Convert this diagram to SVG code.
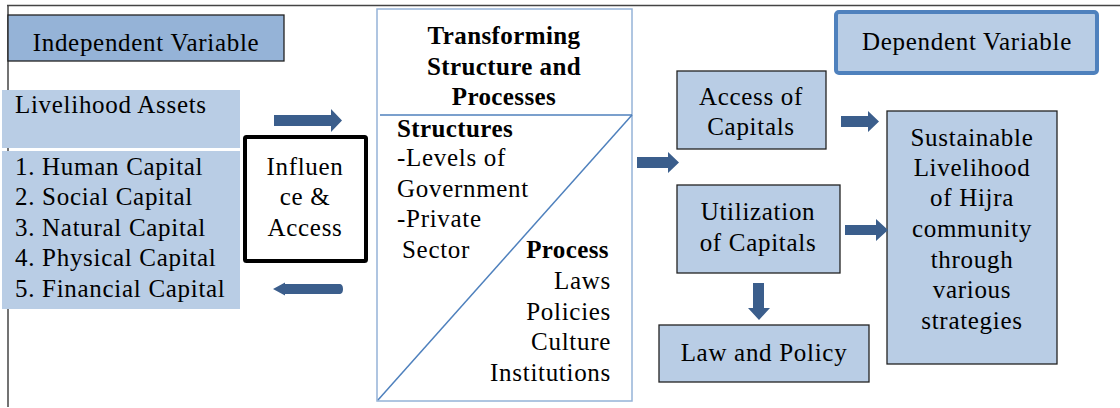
<svg xmlns="http://www.w3.org/2000/svg" width="1120" height="408" viewBox="0 0 1120 408">
  <style>
    .t { font-family: 'Liberation Serif', Tinos, 'Times New Roman', Times, 'DejaVu Serif', serif; font-size: 25px; fill: #000; letter-spacing: 0.7px; }
    .b { font-weight: bold; letter-spacing: 0.4px; }
    .c { text-anchor: middle; }
    .r { text-anchor: end; }
    .box { fill: #b9cde5; stroke: #222; stroke-width: 1.3; }
    .arrow { fill: #3b5e8c; }
  </style>

  <!-- frame lines -->
  <line x1="7" y1="5.5" x2="1120" y2="5.5" stroke="#444" stroke-width="1.5"/>
  <line x1="8" y1="5" x2="8" y2="407" stroke="#444" stroke-width="1.5"/>

  <!-- Independent Variable label -->
  <g id="independent-variable">
    <rect x="8" y="15" width="276" height="46" fill="#95b3d7" stroke="#222" stroke-width="1.3"/>
    <text class="t c" x="146" y="51">Independent Variable</text>
  </g>

  <!-- Livelihood assets -->
  <g id="livelihood-assets">
    <rect x="2" y="90" width="238" height="58" fill="#b9cde5"/>
    <rect x="2" y="151" width="238" height="158" fill="#b9cde5"/>
    <text class="t" x="15" y="113">Livelihood Assets</text>
    <text class="t" x="15" y="175">1. Human Capital</text>
    <text class="t" x="15" y="205">2. Social Capital</text>
    <text class="t" x="15" y="236">3. Natural Capital</text>
    <text class="t" x="15" y="266">4. Physical Capital</text>
    <text class="t" x="15" y="297">5. Financial Capital</text>
  </g>

  <!-- Influence & Access -->
  <g id="influence-access">
    <rect x="245" y="137" width="121" height="124" fill="#fff" stroke="#000" stroke-width="4" rx="1.5"/>
    <text class="t c" x="305" y="175">Influen</text>
    <text class="t c" x="305" y="205">ce &amp;</text>
    <text class="t c" x="305" y="236">Access</text>
  </g>

  <!-- Transforming Structure and Processes -->
  <g id="transforming">
    <rect x="377" y="9" width="255" height="392" fill="#fff" stroke="#95b3d7" stroke-width="1.5"/>
    <line x1="380" y1="115" x2="632" y2="115" stroke="#4f81bd" stroke-width="1.5"/>
    <line x1="632" y1="115" x2="378" y2="400" stroke="#4f81bd" stroke-width="1.5"/>
    <text class="t b c" x="504" y="44">Transforming</text>
    <text class="t b c" x="504" y="75">Structure and</text>
    <text class="t b c" x="504" y="105">Processes</text>
    <text class="t b" x="397" y="137">Structures</text>
    <text class="t" x="397" y="166">-Levels of</text>
    <text class="t" x="397" y="197">Government</text>
    <text class="t" x="397" y="227">-Private</text>
    <text class="t" x="402" y="258">Sector</text>
    <text class="t b r" x="609" y="258">Process</text>
    <text class="t r" x="611" y="289">Laws</text>
    <text class="t r" x="611" y="320">Policies</text>
    <text class="t r" x="611" y="350">Culture</text>
    <text class="t r" x="611" y="381">Institutions</text>
  </g>

  <!-- Access of Capitals -->
  <g id="access-capitals">
    <rect class="box" x="677" y="71" width="149" height="78"/>
    <text class="t c" x="751" y="105">Access of</text>
    <text class="t c" x="751" y="135">Capitals</text>
  </g>

  <!-- Utilization of Capitals -->
  <g id="utilization-capitals">
    <rect class="box" x="677" y="185" width="163" height="88"/>
    <text class="t c" x="758" y="220">Utilization</text>
    <text class="t c" x="758" y="251">of Capitals</text>
  </g>

  <!-- Law and Policy -->
  <g id="law-policy">
    <rect class="box" x="659" y="325" width="210" height="57"/>
    <text class="t c" x="764" y="361">Law and Policy</text>
  </g>

  <!-- Dependent Variable label -->
  <g id="dependent-variable">
    <rect x="836" y="12" width="261" height="61" rx="3" fill="#b9cde5" stroke="#4f81bd" stroke-width="4"/>
    <text class="t c" x="967" y="50">Dependent Variable</text>
  </g>

  <!-- Sustainable Livelihood -->
  <g id="sustainable-livelihood">
    <rect class="box" x="887" y="111" width="170" height="253"/>
    <text class="t c" x="972" y="146">Sustainable</text>
    <text class="t c" x="972" y="176">Livelihood</text>
    <text class="t c" x="972" y="206">of Hijra</text>
    <text class="t c" x="972" y="237">community</text>
    <text class="t c" x="972" y="268">through</text>
    <text class="t c" x="972" y="298">various</text>
    <text class="t c" x="972" y="329">strategies</text>
  </g>

  <!-- connectors (block arrows) -->
  <g id="connectors">
    <path class="arrow" d="M274,115 H331 V109 L342,120.5 L331,132 V126 H274 Z"/>
    <path class="arrow" d="M343,289 C343,292 342,294 339,294 H285 V295.5 L273,289 L285,282.5 V284 H339 C342,284 343,286 343,289 Z"/>
    <path class="arrow" d="M637,157 H668 V152 L679,162.5 L668,173 V168 H637 Z"/>
    <path class="arrow" d="M841,116 H868 V111 L879,121.5 L868,132 V127 H841 Z"/>
    <path class="arrow" d="M845,225 H876 V219 L888,230 L876,241 V235 H845 Z"/>
    <path class="arrow" d="M753,283 H764 V308 H770 L759,320 L748,308 H753 Z"/>
  </g>
</svg>
